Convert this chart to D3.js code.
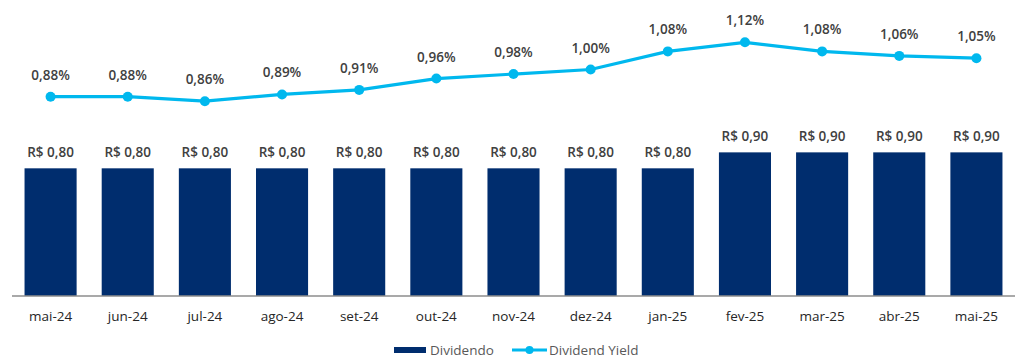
<!DOCTYPE html>
<html>
<head>
<meta charset="utf-8">
<script src="https://cdn.jsdelivr.net/npm/d3@7"></script>
<style>
  html, body { margin: 0; padding: 0; background: #fff; }
  svg { display: block; font-family: "Open Sans", "Noto Sans", sans-serif; }
</style>
</head>
<body>
<svg id="chart" width="1024" height="363"></svg>
<script>
const categories = ["mai-24","jun-24","jul-24","ago-24","set-24","out-24","nov-24","dez-24","jan-25","fev-25","mar-25","abr-25","mai-25"];
const dividendo = [0.80,0.80,0.80,0.80,0.80,0.80,0.80,0.80,0.80,0.90,0.90,0.90,0.90];
const dividendYield = [0.88,0.88,0.86,0.89,0.91,0.96,0.98,1.00,1.08,1.12,1.08,1.06,1.05];
const seriesNames = ["Dividendo", "Dividend Yield"];

const svg = d3.select("#chart");
const left = 12, right = 1015, base = 296;

const barColor = "#002D6E";
const lineColor = "#00B8EE";
const labelColor = "#404040";
const fontFam = '"Open Sans", "Noto Sans", sans-serif';

const x = d3.scaleBand().domain(categories).range([left, right]).paddingInner(0.325).paddingOuter(0.1625);
const y = d3.scaleLinear().domain([0, 1]).range([base, base - 159.6]);
const y2 = d3.scaleLinear().domain([0, 1.2]).range([base, base - 271.8]);

// bars
svg.append("g").selectAll("rect").data(categories).join("rect")
  .attr("x", d => x(d))
  .attr("width", x.bandwidth())
  .attr("y", (d, i) => y(dividendo[i]))
  .attr("height", (d, i) => base - y(dividendo[i]))
  .attr("fill", barColor);

// bar labels
svg.append("g").selectAll("text").data(categories).join("text")
  .attr("x", d => x(d) + x.bandwidth() / 2)
  .attr("y", (d, i) => y(dividendo[i]) - 11)
  .attr("text-anchor", "middle")
  .attr("font-size", 13.5)
  .attr("font-weight", 600)
  .attr("fill", labelColor)
  .text((d, i) => "R$ " + dividendo[i].toFixed(2).replace(".", ","));

// axis
const xAxis = d3.axisBottom(x).tickSize(0).tickPadding(15);
const ax = svg.append("g").attr("transform", `translate(0,${base})`).call(xAxis);
ax.select(".domain").attr("stroke", "#8c8c8c").attr("stroke-width", 1.5).attr("d", `M${left},0H${right}`);
ax.selectAll("text").attr("font-size", 13.5).attr("fill", "#262626").attr("font-family", fontFam);

// line
const cx = d => x(d) + x.bandwidth() / 2;
const line = d3.line().x((d, i) => cx(categories[i])).y(d => y2(d));
svg.append("path").datum(dividendYield)
  .attr("d", line)
  .attr("fill", "none")
  .attr("stroke", lineColor)
  .attr("stroke-width", 3.2);

svg.append("g").selectAll("circle").data(dividendYield).join("circle")
  .attr("cx", (d, i) => cx(categories[i]))
  .attr("cy", d => y2(d))
  .attr("r", 5)
  .attr("fill", lineColor);

svg.append("g").selectAll("text").data(dividendYield).join("text")
  .attr("x", (d, i) => cx(categories[i]))
  .attr("y", d => y2(d) - 17)
  .attr("text-anchor", "middle")
  .attr("font-size", 13.5)
  .attr("font-weight", 600)
  .attr("fill", labelColor)
  .text(d => d.toFixed(2).replace(".", ",") + "%");

// legend
const lg = svg.append("g");
lg.append("rect").attr("x", 394).attr("y", 347).attr("width", 32).attr("height", 6).attr("fill", barColor);
lg.append("text").attr("x", 430).attr("y", 355).attr("font-size", 13.5).attr("fill", "#595959").text(seriesNames[0]);
lg.append("line").attr("x1", 512).attr("x2", 547).attr("y1", 350).attr("y2", 350).attr("stroke", lineColor).attr("stroke-width", 3.2);
lg.append("circle").attr("cx", 529.5).attr("cy", 350).attr("r", 4).attr("fill", lineColor);
lg.append("text").attr("x", 549).attr("y", 355).attr("font-size", 13.5).attr("fill", "#595959").text(seriesNames[1]);
</script>
</body>
</html>
